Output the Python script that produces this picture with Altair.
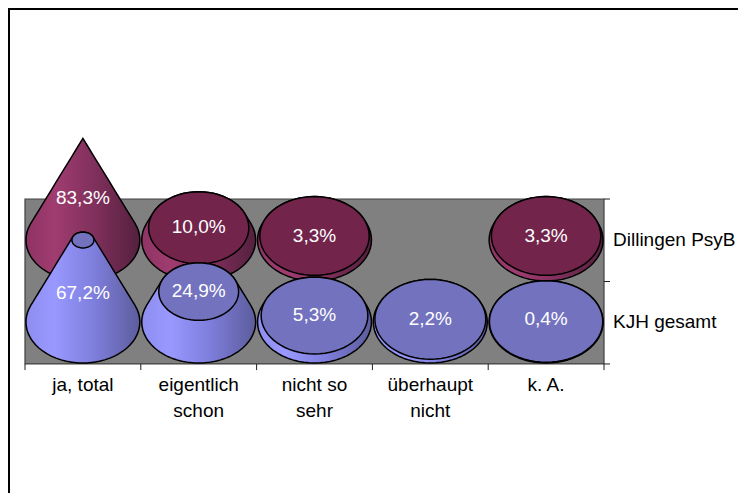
import numpy as np
import pandas as pd
import altair as alt

categories = ["ja, total", "eigentlich\nschon", "nicht so\nsehr", "überhaupt\nnicht", "k. A."]
series_names = ["Dillingen PsyB", "KJH gesamt"]
dillingen = [83.3, 10.0, 3.3, 0.0, 3.3]
kjh = [67.2, 24.9, 5.3, 2.2, 0.4]

W, H = 730, 485
PX_X = 115.8          # px per category
PX_Y = 1.22           # px per percent
X_DOM = [-17 / PX_X, (W - 17) / PX_X]
Y_DOM = [-(H - 314) / PX_Y, 314 / PX_Y]
FLOOR, MID, TOP = -34.4, 33.2, 100.8
BASES = {"Dillingen PsyB": 67.2, "KJH gesamt": 0.0}
CONE_LABEL = {"Dillingen PsyB": 0.41, "KJH gesamt": 0.35}
RX, RY = 0.492, 33.6
VMAX = max(dillingen + kjh)

x_s = alt.Scale(domain=X_DOM, nice=False, zero=False)
y_s = alt.Scale(domain=Y_DOM, nice=False, zero=False)
X = alt.X("x:Q", scale=x_s, axis=None)
Y = alt.Y("y:Q", scale=y_s, axis=None)
Y2 = alt.Y2("y2:Q")


def body_rows(cat, value, base, sid):
    f = 1 - value / VMAX
    h = value / RY
    sin_a = RY / VMAX
    a = np.arcsin(sin_a)
    ca = np.cos(a)
    sa = np.sin(a)
    t = np.linspace(np.pi, 0, 33)
    xs = set(np.round(np.cos(t), 6)) | set(np.round(f * np.cos(t), 6))
    xs |= {ca, -ca, f * ca, -f * ca}
    rows = []
    for xn in sorted(xs):
        low = -np.sqrt(max(1 - xn**2, 0))
        if abs(xn) >= ca:
            up = np.sqrt(max(1 - xn**2, 0))
        elif abs(xn) <= f * ca:
            up = h + np.sqrt(max(f**2 - xn**2, 0))
        else:
            w = (ca - abs(xn)) / (ca - f * ca)
            up = sa + w * (h + f * sa - sa)
        rows.append({"x": cat + 0.5 + xn * RX, "y": base + up * RY,
                     "y2": base + low * RY, "sid": sid})
    return rows


def top_rows(cat, value, base, sid):
    f = 1 - value / VMAX
    t = np.linspace(np.pi, 0, 33)
    return [{"x": cat + 0.5 + np.cos(a) * f * RX,
             "y": base + value + np.sin(a) * f * RY,
             "y2": base + value - np.sin(a) * f * RY, "sid": sid} for a in t]


def grad(stops):
    return alt.LinearGradient(
        gradient="linear", x1=0, x2=1, y1=0, y2=0,
        stops=[alt.GradientStop(color=c, offset=o) for o, c in stops])


styles = {
    "Dillingen PsyB": (grad([(0, "#8e3464"), (0.25, "#a03c70"), (0.6, "#80305c"), (1, "#54203e")]), "#72244b"),
    "KJH gesamt": (grad([(0, "#8e8ef0"), (0.25, "#9898ff"), (0.6, "#7e7edc"), (1, "#5c5c9c")]), "#7272be"),
}

layers = []
bg = pd.DataFrame([{"x": 0, "x2": 5, "y": FLOOR, "y2": TOP}])
layers.append(alt.Chart(bg).mark_rect(fill="#808080", stroke="#404040", strokeWidth=1.2).encode(
    x=X, x2="x2:Q", y=Y, y2=Y2))

ticks_x = pd.DataFrame({"x": list(range(6)), "y": FLOOR, "y2": FLOOR - 5})
layers.append(alt.Chart(ticks_x).mark_rule(color="#202020").encode(x=X, y=Y, y2=Y2))
ticks_y = pd.DataFrame({"y": [FLOOR, MID, TOP], "x": 5.0, "x2": 5 + 6 / PX_X})
layers.append(alt.Chart(ticks_y).mark_rule(color="#202020").encode(x=X, x2="x2:Q", y=Y))

layers.append(alt.Chart(pd.DataFrame({"a": [0]})).mark_rule(color="black", strokeWidth=2).encode(
    x=alt.value(0), x2=alt.value(W), y=alt.value(1)))
layers.append(alt.Chart(pd.DataFrame({"a": [0]})).mark_rule(color="black", strokeWidth=2).encode(
    x=alt.value(1), y=alt.value(0), y2=alt.value(H)))

label_rows = []
for name, vals in zip(series_names, [dillingen, kjh]):
    base = BASES[name]
    body, top = [], []
    for i, v in enumerate(vals):
        if v <= 0:
            continue
        body += body_rows(i, v, base, i)
        if 1 - v / VMAX > 0:
            top += top_rows(i, v, base, i)
        ly = v * CONE_LABEL[name] if v > 30 else max(v + 0.3, 2.7)
        label_rows.append({"x": i + 0.5, "y": base + ly,
                           "t": f"{v:.1f}%".replace(".", ",")})
    fill, topc = styles[name]
    layers.append(alt.Chart(pd.DataFrame(body)).mark_area(
        fill=fill, stroke="black", strokeWidth=1.5, opacity=1).encode(
        x=X, y=Y, y2=Y2, detail="sid:N"))
    layers.append(alt.Chart(pd.DataFrame(top)).mark_area(
        fill=topc, stroke="black", strokeWidth=1.5, opacity=1).encode(
        x=X, y=Y, y2=Y2, detail="sid:N"))

FONT = "Liberation Sans"
SIZE = 19
layers.append(alt.Chart(pd.DataFrame(label_rows)).mark_text(
    color="white", font=FONT, fontSize=SIZE, baseline="middle").encode(x=X, y=Y, text="t:N"))

cat_df = pd.DataFrame({"x": [i + 0.5 for i in range(5)], "y": FLOOR - 10, "t": categories})
layers.append(alt.Chart(cat_df).mark_text(
    color="black", font=FONT, fontSize=SIZE, baseline="top", align="center",
    lineBreak="\n", lineHeight=26).encode(x=X, y=Y, text="t:N"))

ser_df = pd.DataFrame({"x": 5 + 9 / PX_X, "y": [BASES[n] for n in series_names], "t": series_names})
layers.append(alt.Chart(ser_df).mark_text(
    color="black", font=FONT, fontSize=SIZE, baseline="middle", align="left").encode(x=X, y=Y, text="t:N"))

chart = alt.layer(*layers).properties(
    width=W, height=H, padding=0, autosize=alt.AutoSizeParams(type="none"),
    background="white").configure_view(stroke=None)

chart.save("out.html", embed_options={"renderer": "svg", "actions": False})
